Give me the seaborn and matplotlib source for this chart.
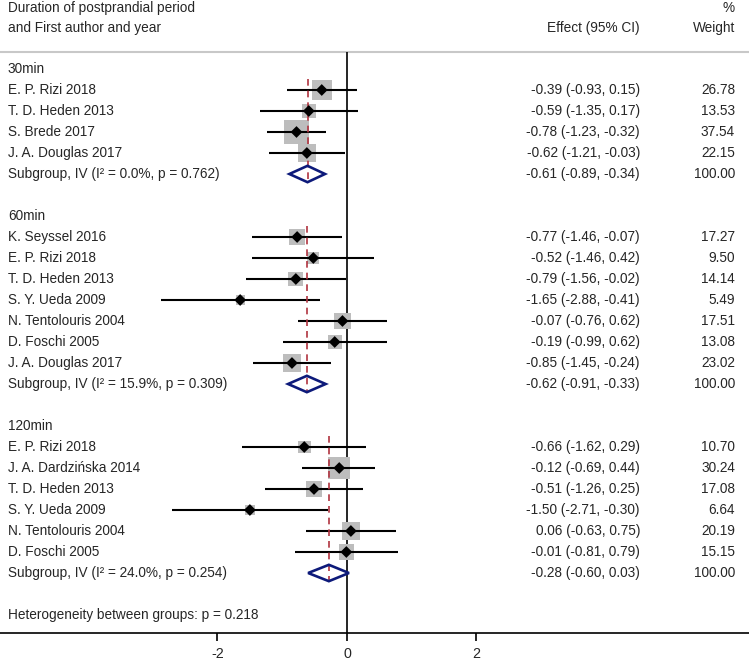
import seaborn as sns
import pandas as pd
import numpy as np
import matplotlib
matplotlib.use("Agg")
import matplotlib.pyplot as plt
from matplotlib.patches import Polygon

sns.set_style("white")
plt.rcParams['font.family'] = ['Liberation Sans', 'DejaVu Sans']
plt.rcParams['axes.unicode_minus'] = False

# data
groups = ["30min", "60min", "120min"]
studies = [
    ["E. P. Rizi 2018", "T. D. Heden 2013", "S. Brede 2017", "J. A. Douglas 2017"],
    ["K. Seyssel 2016", "E. P. Rizi 2018", "T. D. Heden 2013", "S. Y. Ueda 2009",
     "N. Tentolouris 2004", "D. Foschi 2005", "J. A. Douglas 2017"],
    ["E. P. Rizi 2018", "J. A. Dardzińska 2014", "T. D. Heden 2013", "S. Y. Ueda 2009",
     "N. Tentolouris 2004", "D. Foschi 2005"],
]
effect = [[-0.39, -0.59, -0.78, -0.62],
          [-0.77, -0.52, -0.79, -1.65, -0.07, -0.19, -0.85],
          [-0.66, -0.12, -0.51, -1.50, 0.06, -0.01]]
ci_low = [[-0.93, -1.35, -1.23, -1.21],
          [-1.46, -1.46, -1.56, -2.88, -0.76, -0.99, -1.45],
          [-1.62, -0.69, -1.26, -2.71, -0.63, -0.81]]
ci_high = [[0.15, 0.17, -0.32, -0.03],
           [-0.07, 0.42, -0.02, -0.41, 0.62, 0.62, -0.24],
           [0.29, 0.44, 0.25, -0.30, 0.75, 0.79]]
weight = [[26.78, 13.53, 37.54, 22.15],
          [17.27, 9.50, 14.14, 5.49, 17.51, 13.08, 23.02],
          [10.70, 30.24, 17.08, 6.64, 20.19, 15.15]]
sub_effect = [-0.61, -0.62, -0.28]
sub_low = [-0.89, -0.91, -0.60]
sub_high = [-0.34, -0.33, 0.03]
sub_i2 = ["0.0", "15.9", "24.0"]
sub_p = ["0.762", "0.309", "0.254"]
het_p = "0.218"
xticks = [-2, 0, 2]

# build rows
rows = []
heads = []
subs = []
r = 0
for gi, g in enumerate(groups):
    heads.append((r, g))
    r += 1
    first = r
    for j, s in enumerate(studies[gi]):
        rows.append(dict(row=r, study=s, effect=effect[gi][j], lo=ci_low[gi][j],
                         hi=ci_high[gi][j], weight=weight[gi][j]))
        r += 1
    subs.append(dict(row=r, first=first, effect=sub_effect[gi], lo=sub_low[gi],
                     hi=sub_high[gi], i2=sub_i2[gi], p=sub_p[gi]))
    r += 2
het_row = r
df = pd.DataFrame(rows)

W, H = 749, 661
fig = plt.figure(figsize=(W / 100, H / 100), dpi=100)
ax_bottom = 28 / H
ax = fig.add_axes([0, ax_bottom, 1, 1 - ax_bottom])

px_unit = 64.75
x0 = 347
ax.set_xlim(-x0 / px_unit, (W - x0) / px_unit)
y_top = (0 - 69) / 21
y_bot = (633 - 69) / 21
ax.set_ylim(y_bot, y_top)

fs = 9.8
tr = ax.get_yaxis_transform()
xl, xe, xw = 8 / W, 640 / W, 735 / W

# header
ax.text(xl, (8 - 69) / 21, "Duration of postprandial period", transform=tr, va="center", fontsize=fs)
ax.text(xl, (28 - 69) / 21, "and First author and year", transform=tr, va="center", fontsize=fs)
ax.text(xe, (28 - 69) / 21, "Effect (95% CI)", transform=tr, va="center", ha="right", fontsize=fs)
ax.text(xw, (8 - 69) / 21, "%", transform=tr, va="center", ha="right", fontsize=fs)
ax.text(xw, (28 - 69) / 21, "Weight", transform=tr, va="center", ha="right", fontsize=fs)
line_y = (52 - 69) / 21
ax.axhline(line_y, color="#c8c8c8", lw=1.5)
ax.vlines(0, line_y, y_bot, color="black", lw=1.2, zorder=2)

for rr, g in heads:
    ax.text(xl, rr, g, transform=tr, va="center", fontsize=fs)

# study rows
ax.hlines(df["row"], df["lo"], df["hi"], color="black", lw=1.5, zorder=3)
wmin, wmax = df["weight"].min(), df["weight"].max()
k = 8.0
sns.scatterplot(data=df, x="effect", y="row", size="weight", sizes=(k * wmin, k * wmax),
                size_norm=(wmin, wmax), marker="s", color="#bdbdbd", edgecolor="none",
                legend=False, ax=ax, zorder=2)
sns.scatterplot(data=df, x="effect", y="row", marker="D", s=36, color="black",
                edgecolor="none", legend=False, ax=ax, zorder=5)
for _, d in df.iterrows():
    ax.text(xl, d["row"], d["study"], transform=tr, va="center", fontsize=fs)
    ax.text(xe, d["row"], f"{d['effect']:.2f} ({d['lo']:.2f}, {d['hi']:.2f})",
            transform=tr, va="center", ha="right", fontsize=fs)
    ax.text(xw, d["row"], f"{d['weight']:.2f}", transform=tr, va="center", ha="right", fontsize=fs)

# subgroup diamonds
h = 0.39
for s in subs:
    ax.vlines(s["effect"], s["first"] - 0.5, s["row"] + 0.45, color="#b0333f",
              lw=1.2, linestyles=(0, (4, 3)), zorder=4)
    poly = Polygon([(s["lo"], s["row"]), (s["effect"], s["row"] - h), (s["hi"], s["row"]),
                    (s["effect"], s["row"] + h)], closed=True, fill=False,
                   edgecolor="#0d1a7a", lw=1.9, zorder=6)
    ax.add_patch(poly)
    ax.text(xl, s["row"], f"Subgroup, IV (I² = {s['i2']}%, p = {s['p']})",
            transform=tr, va="center", fontsize=fs)
    ax.text(xe, s["row"], f"{s['effect']:.2f} ({s['lo']:.2f}, {s['hi']:.2f})",
            transform=tr, va="center", ha="right", fontsize=fs)
    ax.text(xw, s["row"], "100.00", transform=tr, va="center", ha="right", fontsize=fs)

ax.text(xl, het_row, f"Heterogeneity between groups: p = {het_p}", transform=tr,
        va="center", fontsize=fs)

# axis
for sp in ["top", "left", "right"]:
    ax.spines[sp].set_visible(False)
ax.spines["bottom"].set_color("black")
ax.spines["bottom"].set_linewidth(1.2)
ax.set_xticks(xticks)
ax.set_xticklabels([str(t) for t in xticks])
ax.set_yticks([])
ax.set_xlabel("")
ax.set_ylabel("")
ax.tick_params(axis="x", direction="out", length=5.8, width=1.2, pad=4, labelsize=fs + 0.5,
               bottom=True, color="black")

fig.savefig("out.png", dpi=100)
